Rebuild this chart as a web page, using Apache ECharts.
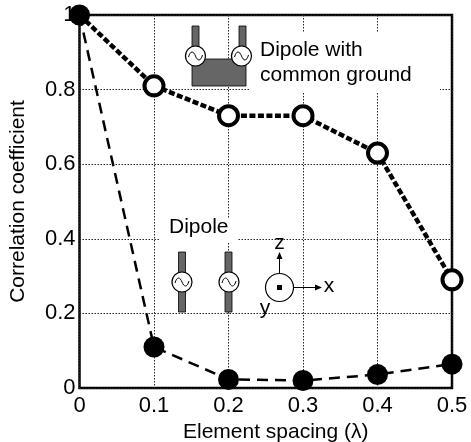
<!DOCTYPE html>
<html><head><meta charset="utf-8">
<style>html,body{margin:0;padding:0;background:#fff}#c{width:471px;height:442px}</style>
<script src="https://cdn.jsdelivr.net/npm/echarts@6/dist/echarts.min.js"></script>
</head><body><div id="c"></div>
<script>
const spacing = [0, 0.1, 0.2, 0.3, 0.4, 0.5];
const commonGround = [1, 0.81, 0.73, 0.73, 0.63, 0.29];
const dipole = [1, 0.11, 0.023, 0.02, 0.036, 0.064];
const FONT = '"Liberation Sans", Arial, sans-serif';
const chart = echarts.init(document.getElementById('c'));

function curve(x1, y1, cpx1, cpy1, cpx2, cpy2, x2, y2) {
  return {type:'bezierCurve', z:4, shape:{x1, y1, cpx1, cpy1, cpx2, cpy2, x2, y2},
    style:{fill:null, stroke:'#000', lineWidth:1}};
}
function source(cx, cy) {
  return [{type:'circle', z:4, shape:{cx, cy, r:10}, style:{fill:'#fff', stroke:'#000', lineWidth:1.2}},
    curve(cx-7, cy+1, cx-5, cy-6, cx-2, cy-5, cx, cy),
    curve(cx, cy, cx+2, cy+5, cx+5, cy+6, cx+7, cy-1)];
}
function bar(x, y, w, h) {
  return {type:'rect', z:3, shape:{x, y, width:w, height:h}, style:{fill:'#666', stroke:'#000', lineWidth:0.8}};
}
function mask(x, y, w, h) {
  return {type:'rect', z:1, shape:{x, y, width:w, height:h}, style:{fill:'#fff'}};
}
function label(text, x, y, align) {
  return {type:'text', z:4, x, y, style:{text, font:`21px ${FONT}`, fill:'#000', align:align||'left', verticalAlign:'middle'}};
}
function arrow(x1, y1, x2, y2) {
  const dx = Math.sign(x2-x1), dy = Math.sign(y2-y1);
  return [
    {type:'line', z:4, shape:{x1, y1, x2, y2}, style:{stroke:'#000', lineWidth:1}},
    {type:'polygon', z:4, shape:{points:[[x2+dx*4,y2+dy*4],[x2-dx*3+dy*3,y2-dy*3+dx*3],[x2-dx*3-dy*3,y2-dy*3-dx*3]]}, style:{fill:'#000'}}
  ];
}
const graphic = [
  mask(250, 32, 190, 60), mask(160, 218, 78, 25),
  bar(192, 26, 7, 24), bar(239, 26, 7, 24), bar(192, 59, 54, 27),
  ...source(195.5, 56), ...source(241.5, 56),
  label('Dipole with', 260, 50), label('common ground', 260, 75),
  label('Dipole', 169, 227),
  bar(178.5, 252, 7, 60), bar(225, 252, 7, 60),
  ...source(182, 282), ...source(229, 282),
  {type:'circle', z:4, shape:{cx:279.5, cy:287.5, r:14}, style:{fill:'#fff', stroke:'#000', lineWidth:1.2}},
  {type:'rect', z:4, shape:{x:277, y:285, width:5, height:5}, style:{fill:'#000'}},
  ...arrow(279.5, 273, 279.5, 256), ...arrow(294, 287.5, 318, 287.5),
  label('z', 279.5, 243, 'center'), label('x', 329, 286, 'center'), label('y', 265, 308, 'center')
];
const grid = {show:true, left:79.5, right:19, top:15, bottom:54, outerBoundsMode:'none',
  borderColor:'#000', borderWidth:2.5, backgroundColor:'transparent'};
const split = {show:true, lineStyle:{color:'#222', width:1, type:[1.5,1.5]}};
chart.setOption({
  animation:false,
  backgroundColor:'#fff',
  grid,
  graphic,
  xAxis:{type:'value', min:0, max:0.5, interval:0.1,
    name:'Element spacing (λ)', nameLocation:'middle', nameGap:33,
    nameTextStyle:{fontFamily:FONT, fontSize:21, color:'#000', padding:[0,0,0,20]},
    axisLine:{show:false}, axisTick:{show:false}, splitLine:split,
    axisLabel:{fontFamily:FONT, fontSize:22, color:'#000', margin:7, formatter:v=>String(v)}},
  yAxis:{type:'value', min:0, max:1, interval:0.2,
    name:'Correlation coefficient', nameLocation:'middle', nameGap:51,
    nameTextStyle:{fontFamily:FONT, fontSize:21, color:'#000'},
    axisLine:{show:false}, axisTick:{show:false}, splitLine:split,
    axisLabel:{fontFamily:FONT, fontSize:22, color:'#000', margin:4, formatter:v=>String(v)}},
  series:[
    {type:'line', z:5, data:spacing.map((x,i)=>[x,dipole[i]]), symbol:'circle', symbolSize:21, clip:false,
     lineStyle:{color:'#000', width:2.5, type:[11,7]}, itemStyle:{color:'#000'}},
    {type:'line', z:6, data:spacing.map((x,i)=>({value:[x,commonGround[i]],
        itemStyle:i===0?{color:'#000',borderColor:'#000',borderWidth:1}:undefined})), symbol:'circle', symbolSize:19, clip:false,
     lineStyle:{color:'#000', width:4.5, type:[6,2.5]}, itemStyle:{color:'#fff', borderColor:'#000', borderWidth:4}}
  ]
});
</script></body></html>
